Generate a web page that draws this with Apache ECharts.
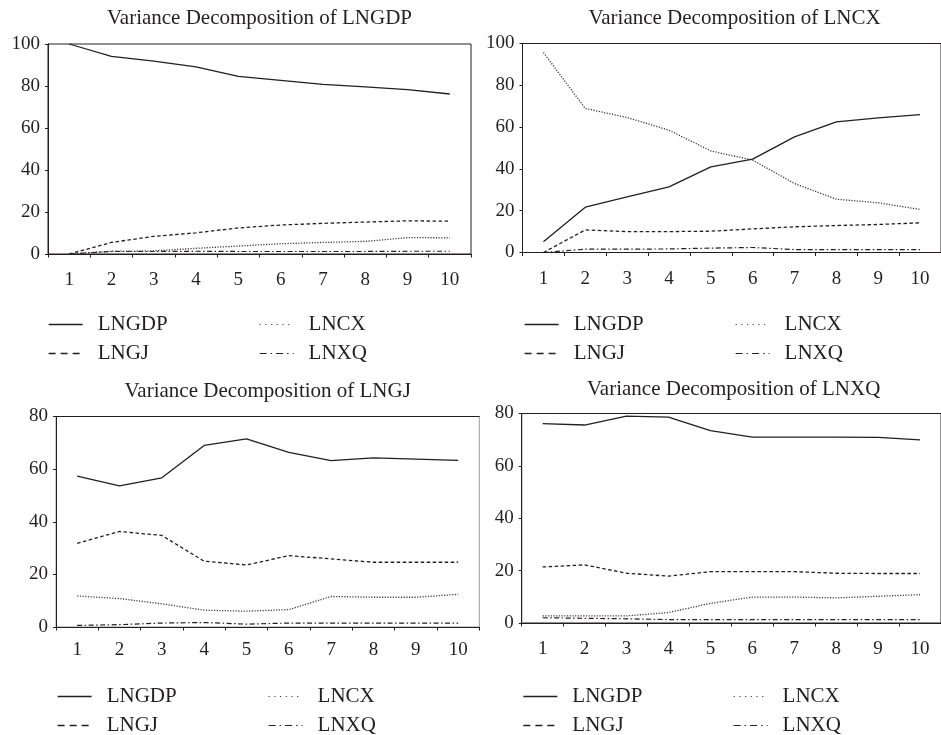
<!DOCTYPE html>
<html>
<head>
<meta charset="utf-8">
<script src="https://cdn.jsdelivr.net/npm/echarts@6/dist/echarts.min.js"></script>
<style>html,body{margin:0;padding:0;background:#fff;}#c{width:941px;height:735px;}</style>
</head>
<body>
<div id="c"></div>
<script>
const categories = ['1','2','3','4','5','6','7','8','9','10'];
const seriesNames = ['LNGDP','LNCX','LNGJ','LNXQ'];
const panelTitles = ['Variance Decomposition of LNGDP','Variance Decomposition of LNCX','Variance Decomposition of LNGJ','Variance Decomposition of LNXQ'];
const yMax = [100, 100, 80, 80];

// Panel 1: LNGDP
const p1_LNGDP = [100, 94.1, 91.8, 89.1, 84.6, 82.7, 80.8, 79.6, 78.3, 76.2];
const p1_LNCX  = [0, 1.3, 1.5, 2.7, 3.8, 4.9, 5.5, 6.0, 7.8, 7.7];
const p1_LNGJ  = [0, 5.5, 8.4, 10.1, 12.4, 13.8, 14.6, 15.2, 15.8, 15.6];
const p1_LNXQ  = [0, 1.2, 1.2, 1.3, 1.2, 1.2, 1.2, 1.2, 1.3, 1.3];
// Panel 2: LNCX
const p2_LNGDP = [5.1, 21.7, 26.6, 31.4, 41.0, 44.7, 55.3, 62.5, 64.4, 66.0];
const p2_LNCX  = [95.7, 68.9, 64.6, 58.5, 48.6, 44.2, 33.0, 25.5, 23.8, 20.6];
const p2_LNGJ  = [0, 10.8, 10.0, 10.0, 10.2, 11.3, 12.3, 12.9, 13.4, 14.2];
const p2_LNXQ  = [0, 1.6, 1.6, 1.7, 2.1, 2.4, 1.4, 1.4, 1.4, 1.4];
// Panel 3: LNGJ
const p3_LNGDP = [57.3, 53.6, 56.7, 69.0, 71.5, 66.4, 63.2, 64.3, 63.8, 63.3];
const p3_LNCX  = [11.8, 10.8, 8.8, 6.4, 6.0, 6.6, 11.6, 11.3, 11.3, 12.4];
const p3_LNGJ  = [31.8, 36.3, 34.8, 25.0, 23.6, 27.1, 25.9, 24.6, 24.6, 24.6];
const p3_LNXQ  = [0.6, 0.9, 1.5, 1.7, 1.1, 1.5, 1.5, 1.5, 1.5, 1.5];
// Panel 4: LNXQ
const p4_LNGDP = [76.1, 75.6, 79.0, 78.6, 73.5, 71.0, 71.0, 71.0, 70.9, 69.9];
const p4_LNCX  = [2.7, 2.7, 2.7, 4.0, 7.5, 9.9, 9.9, 9.6, 10.2, 10.8];
const p4_LNGJ  = [21.4, 22.2, 19.0, 17.9, 19.6, 19.6, 19.6, 19.0, 18.9, 18.9];
const p4_LNXQ  = [2.0, 1.8, 1.6, 1.3, 1.3, 1.3, 1.3, 1.3, 1.3, 1.3];

const panelData = [
  [p1_LNGDP, p1_LNCX, p1_LNGJ, p1_LNXQ],
  [p2_LNGDP, p2_LNCX, p2_LNGJ, p2_LNXQ],
  [p3_LNGDP, p3_LNCX, p3_LNGJ, p3_LNXQ],
  [p4_LNGDP, p4_LNCX, p4_LNGJ, p4_LNXQ]
];

const FONT = 'Liberation Serif';
const INK = '#231f20';

const grids = [
  {left: 48, top: 44, width: 423, height: 210},
  {left: 522.5, top: 43.5, width: 424, height: 209},
  {left: 56, top: 416.5, width: 423.3, height: 210.5},
  {left: 521.7, top: 413.5, width: 424, height: 209.5}
];
const titlePos = [
  {x: 259.5, y: 8}, {x: 734.5, y: 8}, {x: 267.7, y: 381}, {x: 733.7, y: 379}
];
const xLabelMargin = [17, 17, 14, 17];
const legendPos = [
  {c1: 48, c2: 259, top: 314},
  {c1: 524, c2: 735, top: 314},
  {c1: 57, c2: 268, top: 686},
  {c1: 522.7, c2: 733, top: 686}
];

const lineStyles = {
  LNGDP: {color: INK, width: 1.3, type: 'solid'},
  LNCX:  {color: '#3a3a3a', width: 1.3, type: [1.2, 1.5]},
  LNGJ:  {color: INK, width: 1.3, type: [3.5, 2.5]},
  LNXQ:  {color: INK, width: 1.2, type: [5, 2.5, 1.5, 2.5]}
};
const legendLineStyles = {
  LNGDP: {color: INK, width: 1.3, type: 'solid'},
  LNCX:  {color: '#444', width: 1.2, type: [1.2, 4.5]},
  LNGJ:  {color: INK, width: 1.3, type: [7, 5]},
  LNXQ:  {color: INK, width: 1.2, type: [7, 4, 1.5, 4]}
};

const option = {
  backgroundColor: '#fff',
  animation: false,
  color: [INK, INK, INK, INK],
  title: [], grid: [], xAxis: [], yAxis: [], legend: [], series: []
};

for (let i = 0; i < 4; i++) {
  option.grid.push(Object.assign({
    show: true, borderColor: i === 2 ? '#9a9a9a' : INK, borderWidth: 1,
    containLabel: false
  }, grids[i]));
  option.title.push({
    text: panelTitles[i], left: titlePos[i].x, top: titlePos[i].y, textAlign: 'center', padding: 0,
    textStyle: {fontFamily: FONT, fontSize: 21, fontWeight: 'normal', color: INK, lineHeight: 21}
  });
  option.xAxis.push({
    type: 'category', gridIndex: i, data: categories, boundaryGap: true,
    axisLine: {show: true, lineStyle: {color: INK, width: 1}},
    axisTick: {show: true, length: 3.5, inside: false, alignWithLabel: false, interval: 0, lineStyle: {color: INK}},
    axisLabel: {interval: 0, margin: xLabelMargin[i], fontFamily: FONT, fontSize: 19, color: INK},
    splitLine: {show: false}
  });
  option.yAxis.push({
    type: 'value', gridIndex: i, min: 0, max: yMax[i], interval: 20,
    axisLine: {show: true, lineStyle: {color: INK, width: 1}},
    axisTick: {show: true, length: 3, lineStyle: {color: INK}},
    axisLabel: {margin: 8, fontFamily: FONT, fontSize: 19, color: INK},
    splitLine: {show: false}
  });
  if (i === 2) {
    option.xAxis.push({
      type: 'category', gridIndex: i, data: categories, position: 'top',
      axisLine: {show: true, lineStyle: {color: INK, width: 1}},
      axisTick: {show: false}, axisLabel: {show: false}, splitLine: {show: false}
    });
  }
}

// map grid -> xAxis index (panel 3 has an extra top axis)
const xAxisIndexOf = [0, 1, 2, 4];

for (let i = 0; i < 4; i++) {
  for (let s = 0; s < 4; s++) {
    const name = seriesNames[s];
    option.series.push({
      type: 'line', name: name,
      xAxisIndex: xAxisIndexOf[i], yAxisIndex: i,
      data: panelData[i][s],
      symbol: 'none', showSymbol: false,
      itemStyle: {color: INK},
      lineStyle: lineStyles[name],
      z: 4 - s
    });
  }
  const mkLegend = (left, names) => ({
    orient: 'vertical', left: left, top: legendPos[i].top,
    width: 180, height: 120,
    itemWidth: 34, itemHeight: 20, itemGap: 8, padding: 0,
    selectedMode: false,
    itemStyle: {opacity: 0},
    textStyle: {fontFamily: FONT, fontSize: 21, color: INK, padding: [0, 0, 0, 10], lineHeight: 20},
    data: names.map(n => ({name: n, itemStyle: {opacity: 0, color: 'rgba(0,0,0,0)', borderWidth: 0}, lineStyle: legendLineStyles[n]}))
  });
  option.legend.push(mkLegend(legendPos[i].c1, ['LNGDP', 'LNGJ']));
  option.legend.push(mkLegend(legendPos[i].c2, ['LNCX', 'LNXQ']));
}

const chart = echarts.init(document.getElementById('c'), null, {renderer: 'canvas'});
chart.setOption(option);
</script>
</body>
</html>
